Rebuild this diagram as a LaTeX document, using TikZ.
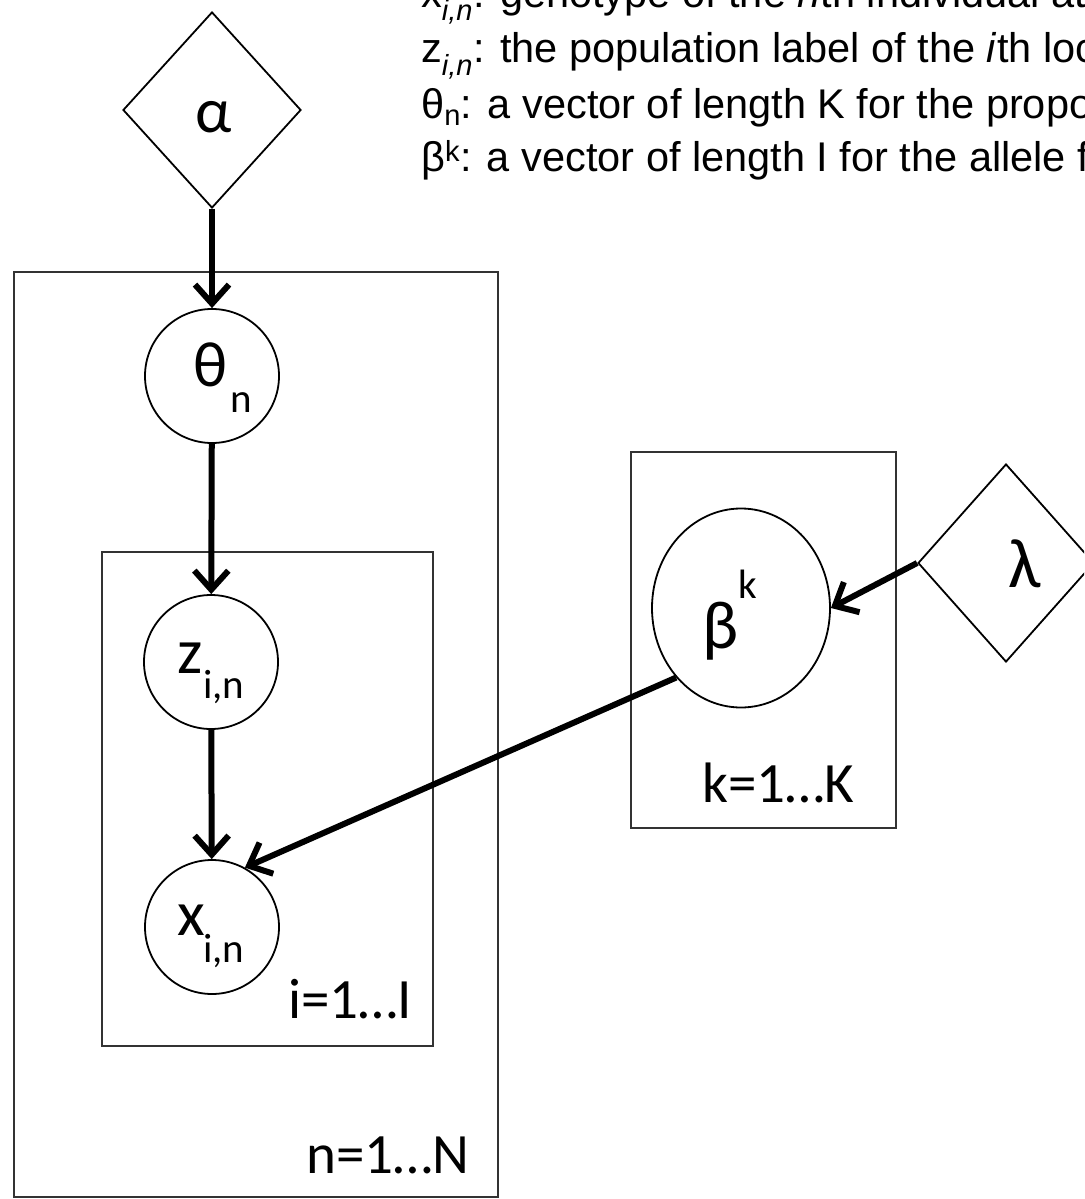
\documentclass[tikz,border=0pt]{standalone}
\usepackage{fontspec}
\setmainfont{Carlito}
\newfontfamily\notefont{Liberation Sans}
\usetikzlibrary{shapes.geometric,arrows.meta}

\begin{document}
\begin{tikzpicture}[x=1pt,y=-1pt,
  plate/.style={rectangle,draw=black!80,line width=2.2pt,inner sep=0pt},
  rv/.style={circle,draw,line width=1.8pt,minimum size=134pt,inner sep=0pt},
  hyper/.style={diamond,draw,line width=1.8pt,inner sep=0pt},
  edge/.style={line width=6pt,-{Straight Barb[length=19pt,width=34pt]}},
  sym/.style={inner sep=0pt,font=\fontsize{64}{64}\selectfont},
  idx/.style={inner sep=0pt,anchor=base west,font=\fontsize{41}{41}\selectfont},
  platelabel/.style={inner sep=0pt,anchor=base west,font=\fontsize{57}{57}\selectfont},
  note/.style={inner sep=0pt,anchor=base west,font=\notefont\fontsize{41.5}{41.5}\selectfont}]

\useasboundingbox (0,0) rectangle (1084,1199);
\clip (0,0) rectangle (1084,1199);

% legend of the variables
\node[note] (n1) at (421,8)   {x\textsubscript{\textit{i,n}}: genotype of the \textit{n}th individual at the \textit{i}th locus};
\node[note] (n2) at (421,63)  {z\textsubscript{\textit{i,n}}: the population label of the \textit{i}th locus};
\node[note] (n3) at (421,118) {θ\textsubscript{n}: a vector of length K for the proportions};
\node[note] (n4) at (421,171) {β\textsuperscript{k}: a vector of length I for the allele frequencies};

% plates
\node[plate,minimum width=484pt,minimum height=925pt] (plateN) at (256,734.5) {};
\node[plate,minimum width=331pt,minimum height=494pt] (plateI) at (267.5,799) {};
\node[plate,minimum width=265pt,minimum height=376pt] (plateK) at (763.5,640) {};
\node[platelabel] (labN) at (306,1173) {n=1…N};
\node[platelabel] (labI) at (288,1018) {i=1…I};
\node[platelabel] (labK) at (702,802)  {k=1…K};

% hyperparameters
\node[hyper,minimum width=178pt,minimum height=196pt] (alpha) at (212,110) {};
\node[hyper,minimum width=176pt,minimum height=198pt] (lam) at (1006,563) {};
\node[sym] (alphaT) at (214,117) {α};
\node[sym,anchor=base,font=\fontsize{70}{70}\selectfont] (lamT) at (1025,587) {λ};

% random variables
\node[rv] (theta) at (212,376) {};
\node[rv] (z) at (211,662) {};
\node[rv] (x) at (212,927) {};
\node[ellipse,draw,line width=1.8pt,inner sep=0pt,minimum width=178pt,minimum height=199pt] (beta) at (741,608) {};

\node[sym,anchor=base] (thetaT) at (211,386) {θ};
\node[idx] (thetaS) at (230,412) {n};
\node[sym,anchor=base west] (zT) at (177,673) {z};
\node[idx] (zS) at (203,698) {i,n};
\node[sym,anchor=base west] (xT) at (177,935) {x};
\node[idx] (xS) at (203,962) {i,n};
\node[sym,anchor=base west,font=\fontsize{68}{68}\selectfont] (betaT) at (702,648) {β};
\node[idx] (betaS) at (738,598) {k};

% dependencies
\draw[edge] (alpha.south) -- (theta.north);
\draw[edge] (theta) -- (z);
\draw[edge] (z) -- (x);
\draw[edge] (beta.227) -- (x.61);
\draw[edge] (lam.west) -- (beta.east);
\end{tikzpicture}
\end{document}
